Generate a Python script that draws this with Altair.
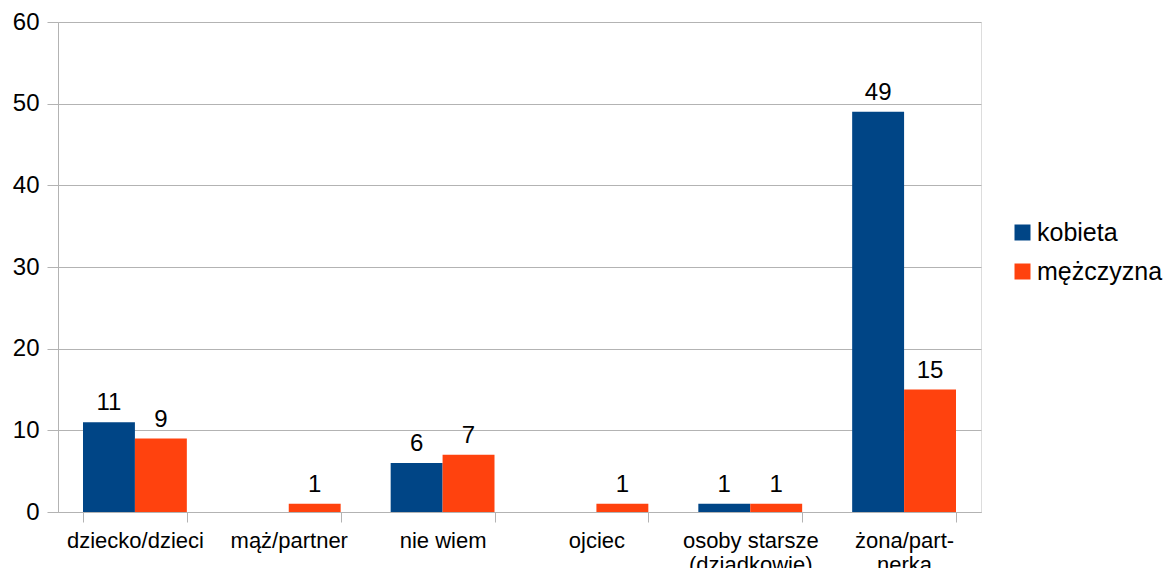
import altair as alt
import pandas as pd

categories = ["dziecko/dzieci", "mąż/partner", "nie wiem", "ojciec",
              "osoby starsze|(dziadkowie)", "żona/part-|nerka"]
series = ["kobieta", "mężczyzna"]
kobieta = [11, 0, 6, 0, 1, 49]
mezczyzna = [9, 1, 7, 1, 1, 15]
colors = ["#004586", "#ff420e"]

rows = []
for c, k, m in zip(categories, kobieta, mezczyzna):
    rows.append({"cat": c, "series": series[0], "value": k})
    rows.append({"cat": c, "series": series[1], "value": m})
df = pd.DataFrame(rows)

FONT = "Liberation Sans"

x = alt.X("cat:N", sort=categories, title=None,
          scale=alt.Scale(paddingInner=0.325, paddingOuter=0.1625),
          axis=alt.Axis(labelAngle=0,
                        labelExpr="isValid(datum.value) ? split(datum.value, '|') : ''",
                        labelFontSize=22, labelFont=FONT, labelColor="black",
                        labelLineHeight=24, labelPadding=8,
                        tickBand="extent", tickSize=10, tickColor="#b3b3b3",
                        domainColor="#b3b3b3", grid=False, labelBaseline="top"))
y = alt.Y("value:Q", title=None,
          scale=alt.Scale(domain=[0, 60], nice=False),
          axis=alt.Axis(values=[0, 10, 20, 30, 40, 50, 60], labelFontSize=24,
                        labelFont=FONT, labelColor="black", labelPadding=8,
                        tickSize=11, tickColor="#b3b3b3", domainColor="#b3b3b3",
                        gridColor="#b3b3b3"))
xo = alt.XOffset("series:N", sort=series, scale=alt.Scale(paddingInner=0, paddingOuter=0))

bars = alt.Chart(df).mark_bar().encode(
    x=x, y=y, xOffset=xo,
    color=alt.Color("series:N", sort=series,
                    scale=alt.Scale(domain=series, range=colors),
                    legend=alt.Legend(title=None, orient="none", legendX=952, legendY=198,
                                      symbolType="square", symbolSize=256,
                                      symbolStrokeWidth=0, labelFontSize=25,
                                      labelFont=FONT, labelColor="black",
                                      labelOffset=2, rowPadding=13, padding=0)),
)

labels = alt.Chart(df).transform_filter("datum.value > 0").mark_text(
    fontSize=24, font=FONT, color="black", baseline="alphabetic", dy=-12
).encode(x=x, y=y, xOffset=xo, text="value:Q")

chart = alt.layer(bars, labels).properties(
    width=923, height=490,
    autosize=alt.AutoSizeParams(type="none"),
    padding={"left": 50, "top": 14, "right": 186, "bottom": 56},
).configure_view(stroke="#b3b3b3").configure(background="white")

chart.save("out.html", embed_options={"renderer": "svg", "actions": False})
